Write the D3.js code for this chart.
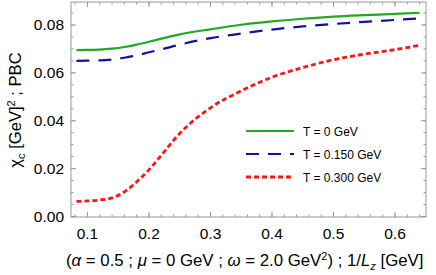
<!DOCTYPE html>
<html>
<head>
<meta charset="utf-8">
<script src="https://cdn.jsdelivr.net/npm/d3@7"></script>
<style>
  body { margin: 0; background: white; }
  text { font-family: "Liberation Sans", Arial, sans-serif; }
</style>
</head>
<body>
<div id="chart"></div>
<script>
  // values
  var invL = [0.082, 0.10, 0.12, 0.14, 0.16, 0.18, 0.20, 0.22, 0.25, 0.30, 0.35, 0.40, 0.45, 0.50, 0.55, 0.60, 0.64];
  var chiT0   = [0.0695, 0.0696, 0.0697, 0.0701, 0.0708, 0.0718, 0.0730, 0.0743, 0.0761, 0.0782, 0.0801, 0.0815, 0.0826, 0.0835, 0.0841, 0.0846, 0.0851];
  var chiT150 = [0.0650, 0.0651, 0.0652, 0.0656, 0.0663, 0.0673, 0.0686, 0.0698, 0.0718, 0.0745, 0.0764, 0.0781, 0.0794, 0.0804, 0.0813, 0.0821, 0.0828];
  var chiT300 = [0.0063, 0.0065, 0.0069, 0.0078, 0.0103, 0.0145, 0.0195, 0.0256, 0.0347, 0.0454, 0.0525, 0.0582, 0.0622, 0.0655, 0.0678, 0.0697, 0.0715];
  var seriesNames = ["T = 0 GeV", "T = 0.150 GeV", "T = 0.300 GeV"];
  var xTicks = [0.1, 0.2, 0.3, 0.4, 0.5, 0.6];
  var yTicks = [0.00, 0.02, 0.04, 0.06, 0.08];

  var W = 436, H = 275;
  var m = {left: 71, right: 10, top: 2, bottom: 58};
  var w = W - m.left - m.right, h = H - m.top - m.bottom;

  var svg = d3.select('#chart').append('svg')
              .attr('width', W).attr('height', H);
  var g = svg.append('g').attr('transform', 'translate(' + m.left + ',' + m.top + ')');

  var x = d3.scaleLinear().domain([0.0732, 0.6504]).range([0, w]);
  var y = d3.scaleLinear().domain([-0.0002, 0.0896]).range([h, 0]);

  var series = [
    {name: seriesNames[0], vals: chiT0,   color: '#22a822', dash: null,  width: 2.2},
    {name: seriesNames[1], vals: chiT150, color: '#1212a2', dash: '13,9', width: 2.2},
    {name: seriesNames[2], vals: chiT300, color: '#ff1414', dash: '5,3',  width: 2.8}
  ];

  var line = d3.line()
               .x(function(d){ return x(d[0]); })
               .y(function(d){ return y(d[1]); })
               .curve(d3.curveMonotoneX);

  g.append('defs').append('clipPath').attr('id', 'clip')
   .append('rect').attr('width', w).attr('height', h);

  g.selectAll('.curve').data(series).enter().append('path')
   .attr('class', 'curve')
   .attr('clip-path', 'url(#clip)')
   .attr('d', function(s){ return line(invL.map(function(v, i){ return [v, s.vals[i]]; })); })
   .style('fill', 'none')
   .style('stroke', function(s){ return s.color; })
   .style('stroke-width', function(s){ return s.width; })
   .style('stroke-dasharray', function(s){ return s.dash; });

  // frame + ticks (inward, mirrored on top/right)
  var frameCol = '#999';
  var xMinor = d3.range(0.08, 0.651, 0.02);
  var yMinor = d3.range(0, 0.0891, 0.005);

  function tickLines(vals, len, isX){
    vals.forEach(function(v){
      if (isX){
        g.append('line').attr('x1', x(v)).attr('x2', x(v)).attr('y1', h).attr('y2', h - len)
         .style('stroke', frameCol);
        g.append('line').attr('x1', x(v)).attr('x2', x(v)).attr('y1', 0).attr('y2', len)
         .style('stroke', frameCol);
      } else {
        g.append('line').attr('y1', y(v)).attr('y2', y(v)).attr('x1', 0).attr('x2', len)
         .style('stroke', frameCol);
        g.append('line').attr('y1', y(v)).attr('y2', y(v)).attr('x1', w).attr('x2', w - len)
         .style('stroke', frameCol);
      }
    });
  }
  tickLines(xMinor, 2.5, true);
  tickLines(xTicks, 5, true);
  tickLines(yMinor, 2.5, false);
  tickLines(yTicks, 5, false);

  g.append('rect').attr('width', w).attr('height', h)
   .style('fill', 'none').style('stroke', frameCol).style('stroke-width', 1);

  g.selectAll('.xl').data(xTicks).enter().append('text')
   .attr('x', function(d){ return x(d); }).attr('y', h + 22)
   .attr('text-anchor', 'middle').style('font-size', '15.5px')
   .text(function(d){ return d3.format('.1f')(d); });

  g.selectAll('.yl').data(yTicks).enter().append('text')
   .attr('x', -7).attr('y', function(d){ return y(d) + 5.5; })
   .attr('text-anchor', 'end').style('font-size', '15.5px')
   .text(function(d){ return d3.format('.2f')(d); });

  // legend
  var leg = g.selectAll('.leg').data(series).enter().append('g')
             .attr('transform', function(s, i){ return 'translate(' + (246 - m.left) + ',' + (131 - m.top + i * 23) + ')'; });
  leg.append('line').attr('x1', 0).attr('x2', 48)
     .style('stroke', function(s){ return s.color; })
     .style('stroke-width', function(s){ return s.width; })
     .style('stroke-dasharray', function(s){ return s.dash; });
  leg.append('text').attr('x', 57).attr('y', 4.5)
     .style('font-size', '12px')
     .text(function(s){ return s.name; });

  // axis labels
  var xl = svg.append('text').attr('x', 66).attr('y', 266).style('font-size', '16.8px');
  xl.append('tspan').text('(');
  xl.append('tspan').style('font-style', 'italic').text('α');
  xl.append('tspan').text(' = 0.5 ; ');
  xl.append('tspan').style('font-style', 'italic').text('μ');
  xl.append('tspan').text(' = 0 GeV ; ');
  xl.append('tspan').style('font-style', 'italic').text('ω');
  xl.append('tspan').text(' = 2.0 GeV');
  xl.append('tspan').attr('dy', -6).style('font-size', '11px').text('2');
  xl.append('tspan').attr('dy', 6).text(') ; 1/');
  xl.append('tspan').style('font-style', 'italic').text('L');
  xl.append('tspan').attr('dy', 4).style('font-size', '11px').style('font-style', 'italic').text('z');
  xl.append('tspan').attr('dy', -4).text(' [GeV]');

  var yl = svg.append('text').attr('transform', 'translate(21,110) rotate(-90)')
              .attr('text-anchor', 'middle').style('font-size', '16.6px');
  yl.append('tspan').text('χ');
  yl.append('tspan').attr('dy', 4).style('font-size', '11px').text('c');
  yl.append('tspan').attr('dy', -4).text(' [GeV]');
  yl.append('tspan').attr('dy', -6).style('font-size', '11px').text('2');
  yl.append('tspan').attr('dy', 6).text(' ; PBC');
</script>
</body>
</html>
